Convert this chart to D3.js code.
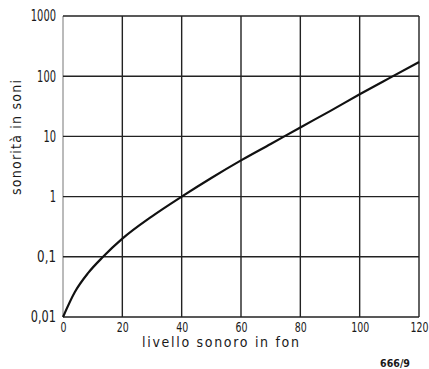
<!DOCTYPE html>
<html>
<head>
<meta charset="utf-8">
<script src="https://cdn.jsdelivr.net/npm/d3@7"></script>
<style>
  html, body { margin: 0; padding: 0; background: #fff; }
  svg { display: block; }
  text { font-family: "DejaVu Sans Condensed", "DejaVu Sans", sans-serif; fill: #1a1a1a; }
</style>
</head>
<body>
<svg id="chart" width="429" height="369"></svg>
<script>
// Loudness (sone) against loudness level (phon)
const phon = [0, 4, 8.5, 13.5, 20, 30, 40, 50, 60, 70, 80, 90, 100, 110, 120];
const sone = [0.01, 0.026, 0.054, 0.1, 0.2, 0.47, 1, 2.04, 4.0, 7.5, 14.1, 26.3, 50, 93, 172];

const xTicks = [0, 20, 40, 60, 80, 100, 120];
const yTicks = [0.01, 0.1, 1, 10, 100, 1000];
const yTickLabels = ["0,01", "0,1", "1", "10", "100", "1000"];

const xTitle = "livello sonoro in fon";
const yTitle = "sonorità in soni";
const figCode = "666/9";

const svg = d3.select("#chart");
const x = d3.scaleLinear().domain([0, 120]).range([63, 419]);
const y = d3.scaleLog().domain([0.01, 1000]).range([317, 16]);

// grid
const grid = svg.append("g").attr("fill", "none");
grid.selectAll("line.v").data(xTicks).join("line")
  .attr("class", "v")
  .attr("x1", d => x(d)).attr("x2", d => x(d))
  .attr("y1", y(1000)).attr("y2", y(0.01))
  .attr("stroke", d => d === 0 ? "#777" : "#222")
  .attr("stroke-width", d => d === 0 ? 1 : 1.4);
grid.selectAll("line.h").data(yTicks).join("line")
  .attr("class", "h")
  .attr("x1", x(0)).attr("x2", x(120))
  .attr("y1", d => y(d)).attr("y2", d => y(d))
  .attr("stroke", "#222")
  .attr("stroke-width", 1.4);

// narrow stencil-like digits: squeeze each label to a fixed advance per character
function squeeze(sel, perChar) {
  sel.each(function() {
    const n = this.textContent.length;
    d3.select(this).attr("textLength", n * perChar).attr("lengthAdjust", "spacingAndGlyphs");
  });
}

const xAxis = d3.axisBottom(x).tickValues(xTicks).tickSize(0).tickPadding(5).tickFormat(d3.format("d"));
const gx = svg.append("g").attr("transform", `translate(0,${y(0.01)})`).call(xAxis);
gx.select(".domain").remove();
gx.selectAll("text").attr("font-size", 14).attr("dy", "0.72em").call(squeeze, 6.0);

const yAxis = d3.axisLeft(y).tickValues(yTicks).tickSize(0).tickPadding(7)
  .tickFormat((d, i) => yTickLabels[i]);
const gy = svg.append("g").attr("transform", `translate(${x(0)},0)`).call(yAxis);
gy.select(".domain").remove();
gy.selectAll("text").attr("font-size", 15).call(squeeze, 6.3);

// curve
const pts = phon.map((p, i) => [p, sone[i]]);
const line = d3.line().x(d => x(d[0])).y(d => y(d[1])).curve(d3.curveMonotoneX);
svg.append("path").datum(pts)
  .attr("d", line)
  .attr("fill", "none")
  .attr("stroke", "#111")
  .attr("stroke-width", 2.2);

// titles
svg.append("text")
  .attr("x", 142).attr("y", 347)
  .attr("font-size", 14)
  .attr("textLength", 157)
  .attr("lengthAdjust", "spacing")
  .text(xTitle);

svg.append("text")
  .attr("transform", `translate(21,195) rotate(-90)`)
  .attr("font-size", 14)
  .attr("textLength", 115)
  .attr("lengthAdjust", "spacing")
  .text(yTitle);

svg.append("text")
  .attr("x", 410).attr("y", 367)
  .attr("text-anchor", "end")
  .attr("font-size", 11)
  .attr("font-weight", "bold")
  .attr("textLength", 30)
  .attr("lengthAdjust", "spacingAndGlyphs")
  .text(figCode);
</script>
</body>
</html>
